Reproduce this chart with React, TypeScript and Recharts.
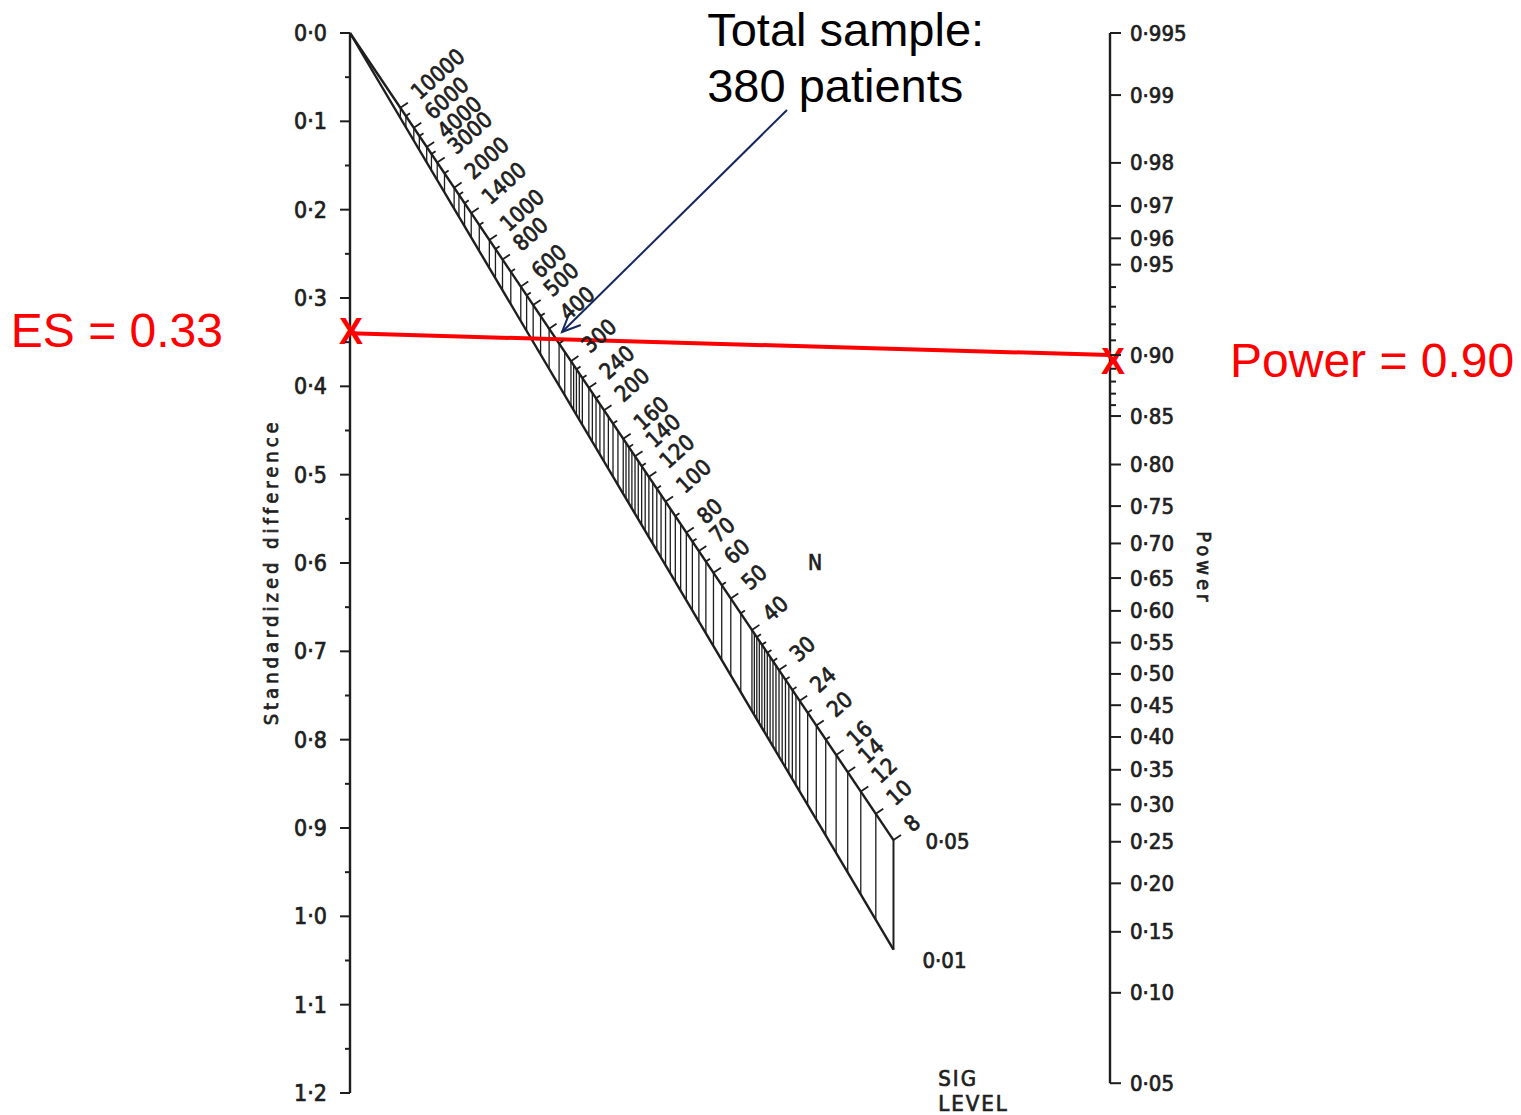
import React from 'react';
import { ComposedChart, XAxis, YAxis, Scatter, ReferenceLine, ReferenceDot } from 'recharts';

// left scale: standardized difference
const sdTicks = [0, 0.05, 0.1, 0.15, 0.2, 0.25, 0.3, 0.35, 0.4, 0.45, 0.5, 0.55, 0.6, 0.65, 0.7, 0.75, 0.8, 0.85, 0.9, 0.95, 1.0, 1.05, 1.1, 1.15, 1.2];

// right scale: power (probit spacing)
const powerMajor = [0.995, 0.99, 0.98, 0.97, 0.96, 0.95, 0.9, 0.85, 0.8, 0.75, 0.7, 0.65, 0.6, 0.55, 0.5, 0.45, 0.4, 0.35, 0.3, 0.25, 0.2, 0.15, 0.1, 0.05];
const powerLabels = ['0·995', '0·99', '0·98', '0·97', '0·96', '0·95', '0·90', '0·85', '0·80', '0·75', '0·70', '0·65', '0·60', '0·55', '0·50', '0·45', '0·40', '0·35', '0·30', '0·25', '0·20', '0·15', '0·10', '0·05'];
const powerMinor = [0.94, 0.93, 0.92, 0.91, 0.89, 0.88, 0.87, 0.86];
const powerSpan = 4.26; // probit units covered by the right axis

// diagonal scale: total sample size N
const nMajor = [10000, 6000, 4000, 3000, 2000, 1400, 1000, 800, 600, 500, 400, 300, 240, 200, 160, 140, 120, 100, 80, 70, 60, 50, 40, 30, 24, 20, 16, 14, 12, 10, 8];
const nMinor = [8000, 5000, 3500, 2500, 1800, 1600, 1200, 900, 700, 550, 450, 350, 280, 260, 220, 180, 150, 130, 110, 90, 75, 65, 55, 45, 38, 36, 34, 32, 28, 26, 22, 18];
const nHatchOnly = [325, 290, 270, 230, 210, 190, 170, 155, 145, 135, 125, 115, 105, 95, 85, 39, 37, 35, 33, 31, 29, 27, 25];
const sigLevels = [0.05, 0.01];
const sigLabels = ['0·05', '0·01'];

// worked example
const esValue = 0.33;
const esMark = 0.34;
const powerValue = 0.9;
const sampleTotal = 380;

const INK = '#1e1e1e';
const RED = '#ff0000';
const NAVY = '#14285f';
const FONT = "'DejaVu Sans Condensed', 'Liberation Sans Narrow', 'DejaVu Sans', sans-serif";
const ARIAL = "Arial, 'Liberation Sans', sans-serif";

function probit(p: number) {
  const a = [-39.69683028665376, 220.9460984245205, -275.9285104469687, 138.357751867269, -30.66479806614716, 2.506628277459239];
  const b = [-54.47609879822406, 161.5858368580409, -155.6989798598866, 66.80131188771972, -13.28068155288572];
  const c = [-0.007784894002430293, -0.3223964580411365, -2.400758277161838, -2.549671348058740, 4.374664141464968, 2.938163982698783];
  const d = [0.007784695709041462, 0.3224671290700398, 2.445134137142996, 3.754408661907416];
  const pl = 0.02425;
  if (p < pl) {
    const q = Math.sqrt(-2 * Math.log(p));
    return (((((c[0] * q + c[1]) * q + c[2]) * q + c[3]) * q + c[4]) * q + c[5]) / ((((d[0] * q + d[1]) * q + d[2]) * q + d[3]) * q + 1);
  }
  if (p > 1 - pl) {
    const q = Math.sqrt(-2 * Math.log(1 - p));
    return -(((((c[0] * q + c[1]) * q + c[2]) * q + c[3]) * q + c[4]) * q + c[5]) / ((((d[0] * q + d[1]) * q + d[2]) * q + d[3]) * q + 1);
  }
  const q = p - 0.5;
  const r = q * q;
  return (((((a[0] * r + a[1]) * r + a[2]) * r + a[3]) * r + a[4]) * r + a[5]) * q / (((((b[0] * r + b[1]) * r + b[2]) * r + b[3]) * r + b[4]) * r + 1);
}

const zTop = probit(0.995);
const zBot = zTop - powerSpan;
const K = 1.2 / powerSpan; // sd units per probit unit
const uOfZ = (z: number) => (zTop - z) * K;

// where N sits on the diagonal for a given sig level
const nPoint = (n: number, alpha: number) => {
  const t = 1 / (1 + (K * Math.sqrt(n)) / 2);
  return { x: t, y: t * K * (zTop + probit(1 - alpha / 2)) };
};

const powerTickInfo = [
  ...powerMajor.map((p, i) => ({ z: probit(p), label: powerLabels[i] })),
  ...powerMinor.map((p) => ({ z: probit(p), label: '' })),
];

const nPoints = [
  ...nMajor.map((n) => ({ ...nPoint(n, sigLevels[0]), n, major: true })),
  ...nMinor.map((n) => ({ ...nPoint(n, sigLevels[0]), n, major: false })),
];
const hatchNs = [...nMajor, ...nMinor, ...nHatchOnly];

const nEnd = nMajor[nMajor.length - 1];
const end05 = nPoint(nEnd, sigLevels[0]);
const end01 = nPoint(nEnd, sigLevels[1]);

const scanText = { fontFamily: FONT, fill: INK, stroke: INK, strokeWidth: 0.7 };

const SdTick = (props: any) => {
  const { x, y, payload } = props;
  const v = payload.value;
  const major = Math.abs(v * 10 - Math.round(v * 10)) < 1e-6;
  return (
    <g>
      <line x1={x - (major ? 10 : 5)} y1={y} x2={x} y2={y} stroke={INK} strokeWidth={2} />
      {major && (
        <text x={x - 23} y={y} textAnchor="end" dominantBaseline="central" fontSize={23} {...scanText}>
          {v.toFixed(1).replace('.', '·')}
        </text>
      )}
    </g>
  );
};

const PowerTick = (props: any) => {
  const { x, y, payload } = props;
  const info = powerTickInfo.find((t) => Math.abs(t.z - payload.value) < 1e-6);
  const label = info ? info.label : '';
  return (
    <g>
      <line x1={x} y1={y} x2={x + (label ? 11 : 6)} y2={y} stroke={INK} strokeWidth={2} />
      {label && (
        <text x={x + 20} y={y} textAnchor="start" dominantBaseline="central" fontSize={22} {...scanText}>
          {label}
        </text>
      )}
    </g>
  );
};

const DIAG = (56 * Math.PI) / 180;
const LABEL_ANGLE = -42;

const NTick = (props: any) => {
  const { cx, cy, payload } = props;
  const nx = Math.sin(DIAG);
  const ny = -Math.cos(DIAG);
  const len = payload.major ? 9 : 5;
  const la = (LABEL_ANGLE * Math.PI) / 180;
  const tx = cx + 19 * Math.cos(la);
  const ty = cy + 19 * Math.sin(la);
  return (
    <g>
      <line x1={cx} y1={cy} x2={cx + nx * len} y2={cy + ny * len} stroke={INK} strokeWidth={1.8} />
      {payload.major && (
        <text x={tx} y={ty} transform={`rotate(${LABEL_ANGLE} ${tx} ${ty})`} dominantBaseline="central" fontSize={22} {...scanText}>
          {payload.n}
        </text>
      )}
    </g>
  );
};

const textShape = (lines: string[], o: any) => (p: any) => {
  const x = p.cx + (o.dx || 0);
  const y = p.cy + (o.dy || 0);
  return (
    <text
      x={x}
      y={y}
      textAnchor={o.anchor || 'start'}
      fontSize={o.size}
      fontFamily={o.font || FONT}
      fill={o.fill || INK}
      stroke={o.scan ? INK : 'none'}
      strokeWidth={o.scan ? 0.7 : 0}
      letterSpacing={o.spacing || 0}
      transform={o.rotate ? `rotate(${o.rotate} ${x} ${y})` : undefined}
    >
      {lines.map((l, i) => (
        <tspan key={i} x={x} dy={i === 0 ? 0 : o.lineGap}>
          {l}
        </tspan>
      ))}
    </text>
  );
};

const crossShape = (dx: number, dy: number) => (p: any) => (
  <text x={p.cx + dx} y={p.cy + dy + 13} textAnchor="middle" fontSize={36} fontWeight="bold" fontFamily={ARIAL} fill={RED}>
    X
  </text>
);

const ArrowShape = (p: any) => {
  const { x1, y1, x2, y2 } = p;
  const ang = Math.atan2(y2 - y1, x2 - x1);
  const L = 20;
  const s = 0.42;
  const a1 = ang + Math.PI - s;
  const a2 = ang + Math.PI + s;
  return (
    <g stroke={NAVY} strokeWidth={2} fill="none">
      <line x1={x1} y1={y1} x2={x2} y2={y2} />
      <polyline points={`${x2 + L * Math.cos(a1)},${y2 + L * Math.sin(a1)} ${x2},${y2} ${x2 + L * Math.cos(a2)},${y2 + L * Math.sin(a2)}`} />
    </g>
  );
};

export default function App() {
  const redEnd = uOfZ(probit(powerValue));
  return (
    <div style={{ position: 'absolute', left: 0, top: 0, width: 1521, height: 1115, background: '#fff' }}>
      <ComposedChart width={1521} height={1115} margin={{ top: 33, bottom: 22, left: 290, right: 351 }}>
        <XAxis type="number" dataKey="x" domain={[0, 1]} hide allowDataOverflow />
        <YAxis
          yAxisId="sd"
          dataKey="y"
          type="number"
          orientation="left"
          domain={[0, 1.2]}
          reversed
          width={60}
          ticks={sdTicks}
          interval={0}
          tick={(p: any) => <SdTick {...p} />}
          tickLine={false}
          tickSize={0}
          tickMargin={0}
          axisLine={{ stroke: INK, strokeWidth: 2.4 }}
          allowDataOverflow
        />
        <YAxis
          yAxisId="power"
          type="number"
          orientation="right"
          domain={[zBot, zTop]}
          width={60}
          ticks={powerTickInfo.map((t) => t.z)}
          interval={0}
          tick={(p: any) => <PowerTick {...p} />}
          tickLine={false}
          tickSize={0}
          tickMargin={0}
          axisLine={false}
          allowDataOverflow
        />
        <ReferenceLine
          yAxisId="power"
          segment={[{ x: 1, y: zTop }, { x: 1, y: probit(powerMajor[powerMajor.length - 1]) }]}
          stroke={INK}
          strokeWidth={2.4}
          ifOverflow="visible"
        />
        {hatchNs.map((n, i) => (
          <ReferenceLine
            key={`h${i}`}
            yAxisId="sd"
            segment={[nPoint(n, sigLevels[0]), nPoint(n, sigLevels[1])]}
            stroke={INK}
            strokeWidth={1.3}
            ifOverflow="visible"
          />
        ))}
        <ReferenceLine yAxisId="sd" segment={[{ x: 0, y: 0 }, end05]} stroke={INK} strokeWidth={2.4} ifOverflow="visible" />
        <ReferenceLine yAxisId="sd" segment={[{ x: 0, y: 0 }, end01]} stroke={INK} strokeWidth={2.4} ifOverflow="visible" />
        <ReferenceLine yAxisId="sd" segment={[end05, end01]} stroke={INK} strokeWidth={1.8} ifOverflow="visible" />
        <Scatter yAxisId="sd" data={nPoints} shape={(p: any) => <NTick {...p} />} isAnimationActive={false} />

        <ReferenceDot yAxisId="sd" x={end05.x} y={end05.y} r={1} ifOverflow="visible" shape={textShape([sigLabels[0]], { dx: 32, dy: 9, size: 22, scan: true })} />
        <ReferenceDot yAxisId="sd" x={end01.x} y={end01.y} r={1} ifOverflow="visible" shape={textShape([sigLabels[1]], { dx: 29, dy: 18, size: 22, scan: true })} />
        <ReferenceDot yAxisId="sd" x={0.612} y={0.599} r={1} ifOverflow="visible" shape={textShape(['N'], { anchor: 'middle', dy: 8, size: 21, scan: true })} />
        <ReferenceDot yAxisId="sd" x={0.774} y={1.183} r={1} ifOverflow="visible" shape={textShape(['SIG', 'LEVEL'], { dy: 8, size: 22, lineGap: 25, spacing: 2, scan: true })} />
        <ReferenceDot yAxisId="sd" x={0} y={0.61} r={1} ifOverflow="visible" shape={textShape(['Standardized difference'], { dx: -72, anchor: 'middle', size: 20, spacing: 4, rotate: -90, scan: true })} />
        <ReferenceDot yAxisId="sd" x={1} y={0.606} r={1} ifOverflow="visible" shape={textShape(['Power'], { dx: 87, anchor: 'middle', size: 20, spacing: 4, rotate: 90, scan: true })} />

        <ReferenceLine
          yAxisId="sd"
          segment={[{ x: 0.575, y: 0.0872 }, { x: 0.279, y: 0.3385 }]}
          ifOverflow="visible"
          shape={(p: any) => <ArrowShape {...p} />}
        />
        <ReferenceDot
          yAxisId="sd"
          x={0.47}
          y={0.0147}
          r={1}
          ifOverflow="visible"
          shape={textShape(['Total sample:', `${sampleTotal} patients`], { size: 47, font: ARIAL, fill: '#000', lineGap: 56 })}
        />

        <ReferenceLine yAxisId="sd" segment={[{ x: 0, y: esMark }, { x: 1, y: redEnd }]} stroke={RED} strokeWidth={4} ifOverflow="visible" />
        <ReferenceDot yAxisId="sd" x={0} y={esMark} r={1} ifOverflow="visible" shape={crossShape(1, -2)} />
        <ReferenceDot yAxisId="sd" x={1} y={redEnd} r={1} ifOverflow="visible" shape={crossShape(3, 6)} />
        <ReferenceDot yAxisId="sd" x={0} y={esMark} r={1} ifOverflow="visible" shape={textShape([`ES = ${esValue}`], { dx: -127, dy: 14, anchor: 'end', size: 48, font: ARIAL, fill: RED })} />
        <ReferenceDot
          yAxisId="sd"
          x={1}
          y={redEnd}
          r={1}
          ifOverflow="visible"
          shape={textShape([`Power = ${powerValue.toFixed(2)}`], { dx: 120, dy: 22, size: 48, font: ARIAL, fill: RED })}
        />
      </ComposedChart>
    </div>
  );
}
